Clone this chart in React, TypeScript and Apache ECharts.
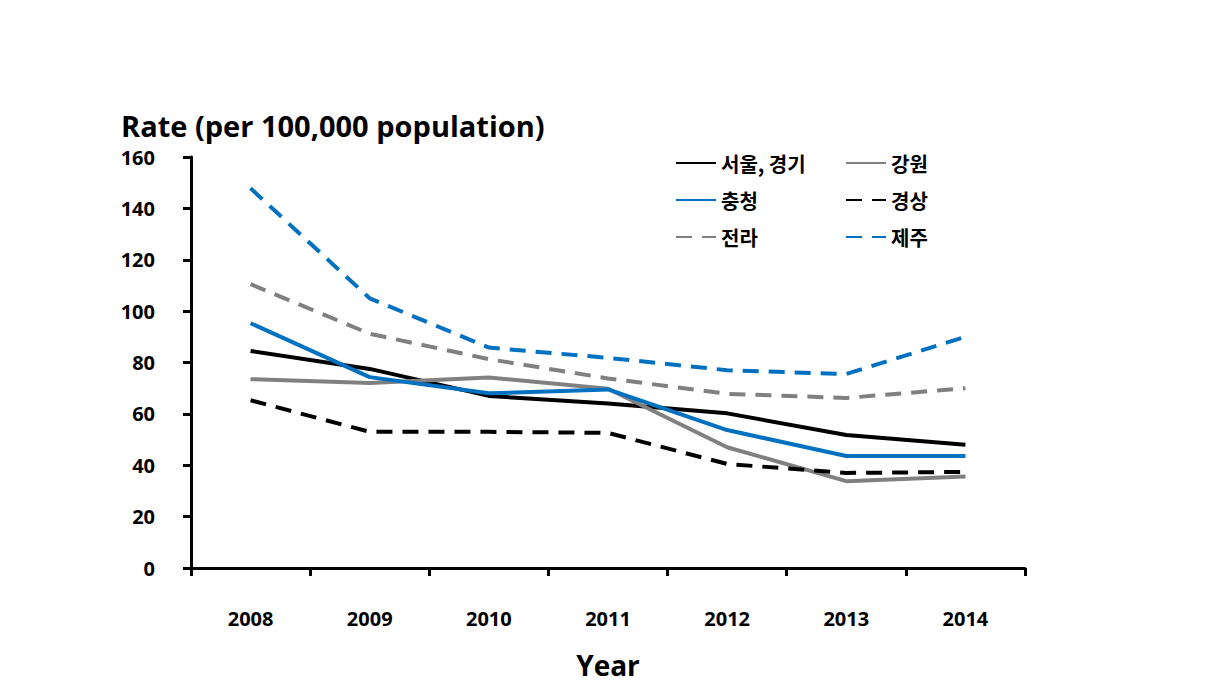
import React, { useEffect, useRef } from "react";
import * as echarts from "echarts";

const years = ["2008", "2009", "2010", "2011", "2012", "2013", "2014"];
const seoul = [84.5, 77.5, 67, 64, 60.2, 51.8, 48];
const gangwon = [73.5, 72, 74.2, 69.8, 47, 33.8, 35.6];
const chungcheong = [95.3, 74.3, 68, 69.5, 53.7, 43.6, 43.6];
const gyeongsang = [65.3, 53, 53, 52.6, 40.5, 37, 37.4];
const jeolla = [110.5, 91.2, 81.3, 73.8, 67.8, 66.2, 70];
const jeju = [147.8, 105, 85.8, 81.8, 77, 75.5, 90];
const yTicks = { min: 0, max: 160, interval: 20 };

const FONT = "'Open Sans', 'Noto Sans CJK KR', sans-serif";
const KFONT = "'Noto Sans CJK KR', sans-serif";
const BLUE = "#0070C0";
const GRAY = "#808080";
const DASH = [16, 10];

export default function App() {
  const ref = useRef<HTMLDivElement>(null);
  useEffect(() => {
    if (!ref.current) return;
    const chart = echarts.init(ref.current, null, { renderer: "svg" });
    const mk = (name: string, data: number[], color: string, dashed: boolean) => ({
      name,
      type: "line",
      data,
      symbol: "none",
      lineStyle: { color, width: 4, type: dashed ? DASH : "solid" },
      itemStyle: { color },
    });
    const legendText = { fontFamily: KFONT, fontWeight: "bold", fontSize: 20, color: "#000" };
    const legendBase = {
      orient: "vertical",
      top: 148,
      itemWidth: 40,
      itemHeight: 4,
      itemGap: 17,
      itemStyle: { opacity: 0 },
      textStyle: legendText,
    };
    chart.setOption({
      animation: false,
      title: {
        text: "Rate (per 100,000 population)",
        left: 116,
        top: 106,
        textStyle: { fontFamily: FONT, fontWeight: "bold", fontSize: 29, color: "#000" },
      },
      legend: [
        { ...legendBase, data: ["서울, 경기", "충청", "전라"], left: 670 },
        { ...legendBase, data: ["강원", "경상", "제주"], left: 840 },
      ],
      grid: { left: 191, right: 186, top: 157, bottom: 122, containLabel: false, outerBoundsMode: "none" },
      xAxis: {
        type: "category",
        data: years,
        boundaryGap: true,
        name: "Year",
        nameLocation: "middle",
        nameGap: 83,
        nameTextStyle: { fontFamily: FONT, fontWeight: "bold", fontSize: 28, color: "#000" },
        axisLine: { lineStyle: { color: "#000", width: 3 } },
        axisTick: { show: true, length: 8, lineStyle: { color: "#000", width: 3 } },
        axisLabel: { margin: 40, fontFamily: FONT, fontWeight: "bold", fontSize: 20, color: "#000" },
      },
      yAxis: {
        type: "value",
        min: yTicks.min,
        max: yTicks.max,
        interval: yTicks.interval,
        splitLine: { show: false },
        axisLine: { show: true, lineStyle: { color: "#000", width: 3 } },
        axisTick: { show: true, length: 8, lineStyle: { color: "#000", width: 3 } },
        axisLabel: { margin: 36, fontFamily: FONT, fontWeight: "bold", fontSize: 20, color: "#000" },
      },
      series: [
        mk("서울, 경기", seoul, "#000000", false),
        mk("강원", gangwon, GRAY, false),
        mk("충청", chungcheong, BLUE, false),
        mk("경상", gyeongsang, "#000000", true),
        mk("전라", jeolla, GRAY, true),
        mk("제주", jeju, BLUE, true),
      ],
    });
    return () => chart.dispose();
  }, []);
  return <div ref={ref} style={{ width: 1211, height: 690, margin: -8 }} />;
}
